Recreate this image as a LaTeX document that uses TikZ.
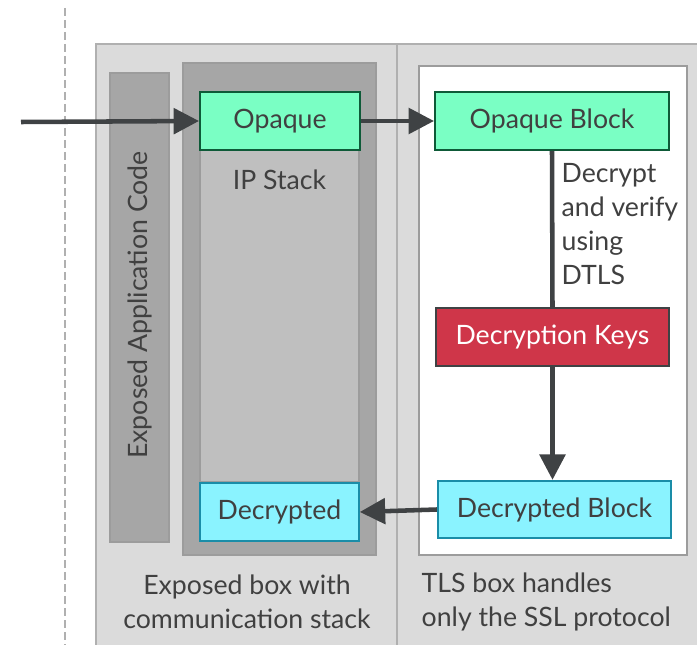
\documentclass[tikz,border=0pt]{standalone}
\usepackage{fontspec}
\setmainfont{Lato}
\usetikzlibrary{arrows.meta}
\definecolor{txt}{HTML}{404040}
\definecolor{arr}{HTML}{3F4244}
\definecolor{outerfill}{HTML}{DBDBDB}
\definecolor{outerline}{HTML}{B0B0B0}
\definecolor{darkgray}{HTML}{A6A6A6}
\definecolor{darkline}{HTML}{9C9C9C}
\definecolor{midgray}{HTML}{BFBFBF}
\definecolor{greenfill}{HTML}{7AFFC4}
\definecolor{greenline}{HTML}{0E5A38}
\definecolor{redfill}{HTML}{CF3649}
\definecolor{redline}{HTML}{3F4244}
\definecolor{cyanfill}{HTML}{8AF3FF}
\definecolor{cyanline}{HTML}{1A8DA8}
\tikzset{
  lbl/.style={font=\fontsize{20}{25.5}\selectfont, text=txt},
  blk/.style={draw, line width=1.5pt, inner sep=0pt, lbl},
  greenblk/.style={blk, fill=greenfill, draw=greenline},
  redblk/.style={blk, fill=redfill, draw=redline, text=white},
  cyanblk/.style={blk, fill=cyanfill, draw=cyanline},
  conn/.style={draw=arr, line width=3.4pt, -{Triangle[length=19pt,width=19pt]}},
  plain/.style={draw=arr, line width=3.4pt},
}
\begin{document}
\begin{tikzpicture}[x=0.75pt,y=-0.75pt]
\useasboundingbox (0,0) rectangle (697,645);
% dashed boundary
\draw[draw=outerline, line width=2pt, dash pattern=on 6pt off 3pt] (65,8) -- (65,645);
% outer gray box
\filldraw[fill=outerfill, draw=outerline, line width=1.5pt] (96,660) -- (96,44) -- (710,44);
\fill[outerfill] (97,45) rectangle (710,660);
\draw[draw=outerline, line width=1.5pt] (397,44) -- (397,660);
% white TLS box
\filldraw[fill=white, draw=darkline, line width=1.5pt] (419,66) rectangle (687,555);
% application code bar
\filldraw[fill=darkgray, draw=darkline, line width=0.8pt] (110,73) rectangle (169,542);
\node[lbl, rotate=90] (app) at (139.5,305) {Exposed Application Code};
% IP stack
\filldraw[fill=darkgray, draw=darkline, line width=1pt] (183,63) rectangle (376,555);
\filldraw[fill=midgray, draw=darkline, line width=1.2pt] (200,150) rectangle (359,482);
\node[lbl] (ip) at (279.5,180) {IP Stack};
% blocks
\node[greenblk, minimum width=120pt, minimum height=43.5pt] (op) at (280,121) {Opaque};
\node[greenblk, minimum width=175.5pt, minimum height=43.5pt] (ob) at (552,121) {Opaque Block};
\node[redblk, minimum width=175pt, minimum height=43.5pt] (dk) at (552.5,337) {Decryption Keys};
\node[cyanblk, minimum width=175pt, minimum height=43pt] (db) at (554.5,509.5) {Decrypted Block};
\node[cyanblk, minimum width=119pt, minimum height=43.5pt] (de) at (279.5,512) {Decrypted};
% connectors
\coordinate (start) at (21,122);
\draw[conn] (start) -- (op.west);
\draw[conn] (op.east) -- (ob.west);
\draw[plain] (ob.south) -- node[lbl, right=2pt, align=left, yshift=4pt] (dtls) {Decrypt\\and verify\\using\\DTLS} (dk.north);
\draw[conn] (dk.south) -- (dk.south |- db.north);
\draw[conn] (db.west) -- (de.east);
% captions
\node[lbl, align=center] (cap1) at (247,602) {Exposed box with\\communication stack};
\node[lbl, align=left, anchor=west] (cap2) at (417,602) {TLS box handles\\only the SSL protocol};
\end{tikzpicture}
\end{document}
